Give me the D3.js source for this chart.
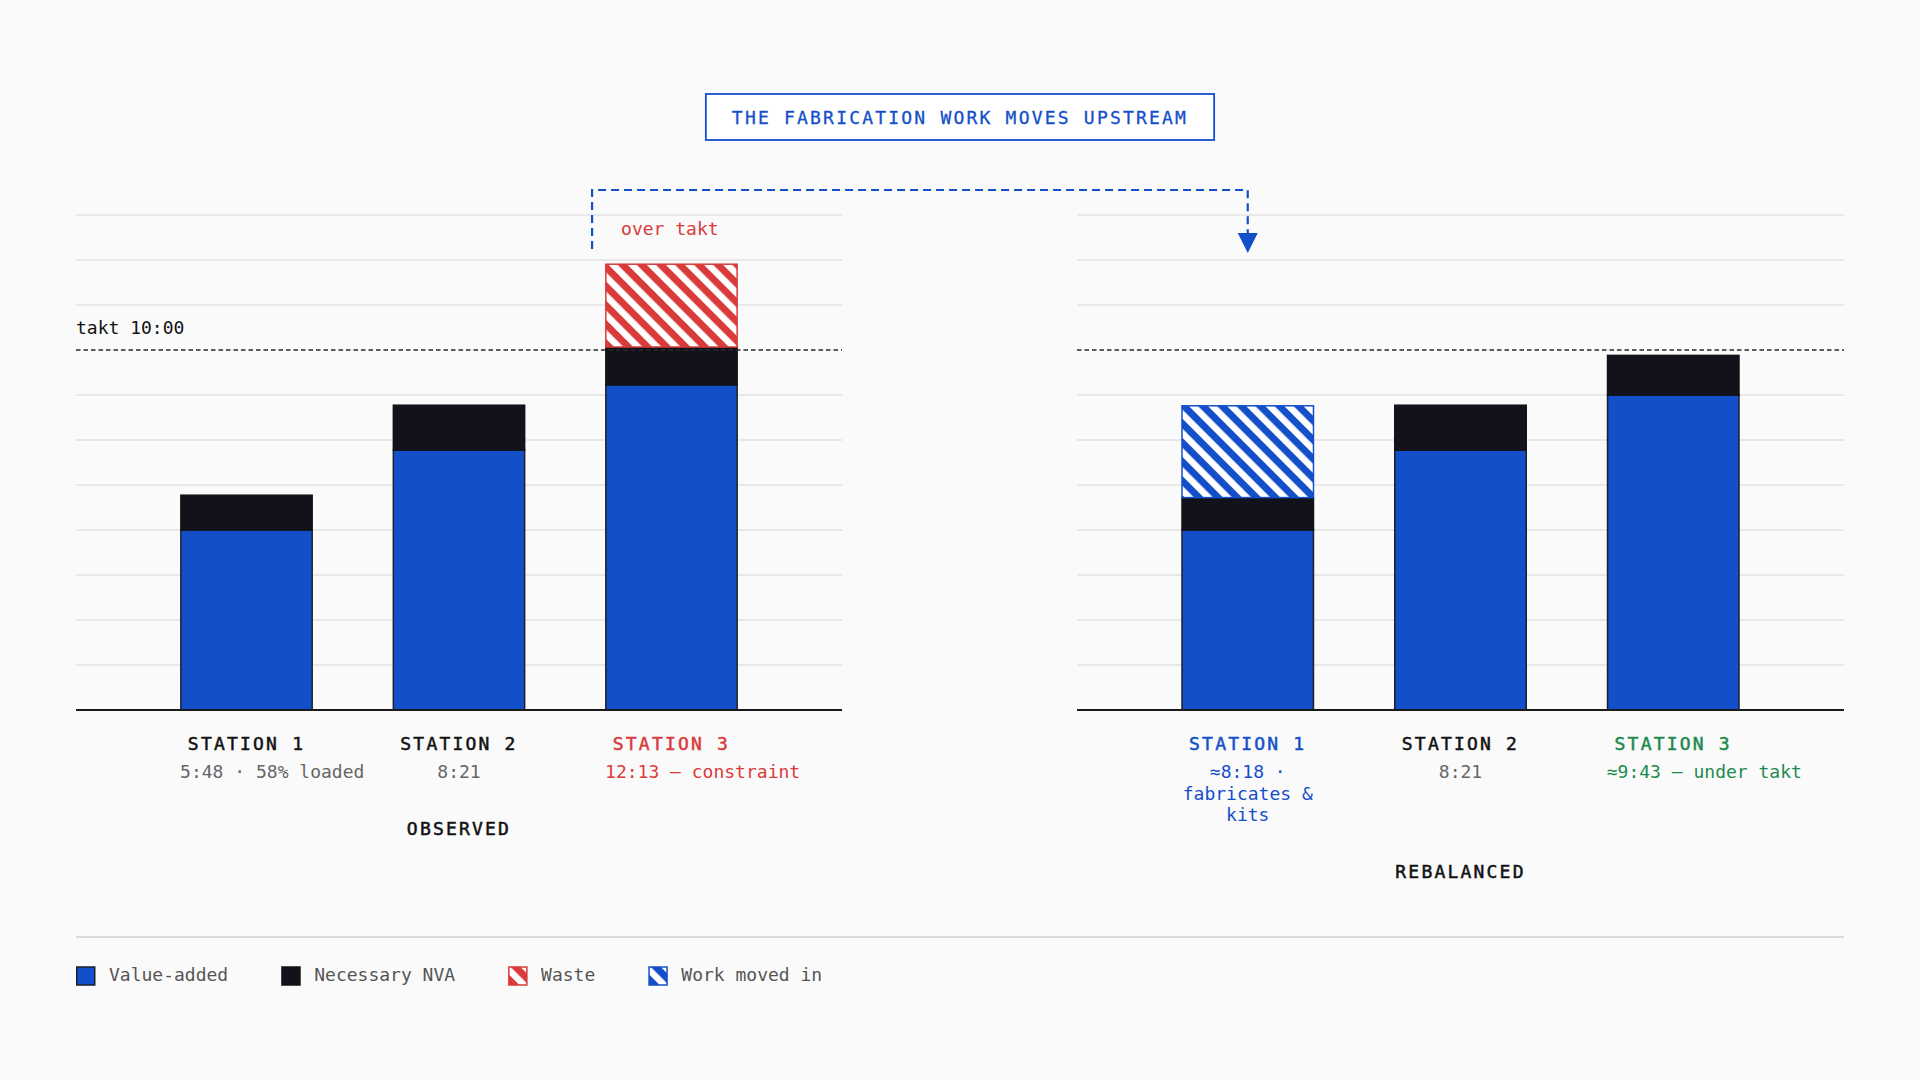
<!DOCTYPE html>
<html>
<head>
<meta charset="utf-8">
<script src="https://cdn.jsdelivr.net/npm/d3@7"></script>
<style>
  html, body { margin: 0; padding: 0; background: #fafafa; }
  svg { display: block; }
  text { font-family: "DejaVu Sans Mono", "Liberation Mono", monospace; }
</style>
</head>
<body>
<svg id="chart" width="1920" height="1080"></svg>
<script>
// values in seconds
var stations = ["STATION 1", "STATION 2", "STATION 3"];
var observedValueAdded = [300, 433, 542];
var observedNVA = [58, 75, 63];
var observedWaste = [0, 0, 138];
var observedMoved = [0, 0, 0];
var rebalancedValueAdded = [300, 433, 525];
var rebalancedNVA = [54, 75, 66];
var rebalancedWaste = [0, 0, 0];
var rebalancedMoved = [153, 0, 0];

var observedNotes = [["5:48 · 58% loaded"], ["8:21"], ["12:13 — constraint"]];
var rebalancedNotes = [["≈8:18 ·", "fabricates &", "kits"], ["8:21"], ["≈9:43 — under takt"]];

var gridTicks = [75, 150, 225, 300, 375, 450, 525, 600, 675, 750, 825];
var takt = 600;
var taktLabel = "takt 10:00";
var yMax = 825;

var legendLabels = ["Value-added", "Necessary NVA", "Waste", "Work moved in"];
var titleText = "THE FABRICATION WORK MOVES UPSTREAM";

const colors = {
  va: "#144fca",
  nva: "#12121a",
  red: "#d93b3b",
  green: "#1e8a4e",
  ink: "#111111",
  grey: "#666666",
  grid: "#e2e2e2",
  bg: "#fafafa"
};

var keys = ["va", "nva", "waste", "moved"];
var svg = d3.select("#chart");

// patterns
var defs = svg.append("defs");
function hatch(id, color) {
  var p = defs.append("pattern")
    .attr("id", id)
    .attr("patternUnits", "userSpaceOnUse")
    .attr("width", 13.5).attr("height", 13.5)
    .attr("patternTransform", "rotate(-45)");
  p.append("rect").attr("width", 13.5).attr("height", 13.5).attr("fill", color);
  p.append("rect").attr("x", 0).attr("width", 6.5).attr("height", 13.5).attr("fill", "#ffffff");
}
hatch("hatch-red", colors.red);
hatch("hatch-blue", colors.va);

var fills = { va: colors.va, nva: colors.nva, waste: "url(#hatch-red)", moved: "url(#hatch-blue)" };
var strokes = { va: "#1c1f2b", nva: colors.nva, waste: colors.red, moved: colors.va };

var y = d3.scaleLinear().domain([0, yMax]).range([710, 215]);

function rows(va, nva, waste, moved) {
  return stations.map((s, i) => ({ station: s, va: va[i], nva: nva[i], waste: waste[i], moved: moved[i] }));
}

// semi-bold look for caps labels
function heavy(sel, color) {
  return sel.attr("fill", color).attr("stroke", color).attr("stroke-width", 0.5);
}

var panels = [
  { x0: 76, x1: 842, label: "OBSERVED", data: rows(observedValueAdded, observedNVA, observedWaste, observedMoved),
    notes: observedNotes, labelColors: [colors.ink, colors.ink, colors.red], noteColors: [colors.grey, colors.grey, colors.red], taktText: true },
  { x0: 1077, x1: 1844, label: "REBALANCED", data: rows(rebalancedValueAdded, rebalancedNVA, rebalancedWaste, rebalancedMoved),
    notes: rebalancedNotes, labelColors: [colors.va, colors.ink, colors.green], noteColors: [colors.va, colors.grey, colors.green], taktText: false }
];

panels.forEach(function(p) {
  p.x = d3.scaleBand().domain(stations).range([p.x0, p.x1]).paddingInner(0.375).paddingOuter(0.49);
  var g = svg.append("g").attr("class", "panel");

  // grid
  g.selectAll(".grid")
    .data(gridTicks.filter(t => t !== takt))
    .enter().append("line")
    .attr("x1", p.x0).attr("x2", p.x1)
    .attr("y1", d => y(d)).attr("y2", d => y(d))
    .attr("stroke", colors.grid).attr("stroke-width", 1.6);

  // stacked bars
  var stacked = d3.stack().keys(keys)(p.data);
  g.selectAll(".layer")
    .data(stacked)
    .enter().append("g")
    .attr("fill", d => fills[d.key])
    .attr("stroke", d => strokes[d.key])
    .selectAll("rect")
    .data(d => d.filter(s => s[1] - s[0] > 0))
    .enter().append("rect")
    .attr("x", d => p.x(d.data.station) + 0.75)
    .attr("width", p.x.bandwidth() - 1.5)
    .attr("y", d => y(d[1]))
    .attr("height", d => y(d[0]) - y(d[1]))
    .attr("stroke-width", 1.5);

  // takt line
  g.append("line")
    .attr("x1", p.x0).attr("x2", p.x1)
    .attr("y1", y(takt)).attr("y2", y(takt))
    .attr("stroke", "#2a2a2a").attr("stroke-width", 1.5)
    .attr("stroke-dasharray", "4.5,3");
  if (p.taktText) {
    g.append("text").attr("x", p.x0).attr("y", y(takt) - 16)
      .attr("font-size", 18).attr("fill", colors.ink).text(taktLabel);
  }

  // baseline
  g.append("line")
    .attr("x1", p.x0).attr("x2", p.x1)
    .attr("y1", y(0)).attr("y2", y(0))
    .attr("stroke", "#1a1a1a").attr("stroke-width", 1.8);

  // station labels
  g.selectAll(".st")
    .data(stations)
    .enter().append("text")
    .attr("x", d => p.x(d) + p.x.bandwidth() / 2)
    .attr("y", 750)
    .attr("text-anchor", "middle")
    .attr("font-size", 18)
    .attr("letter-spacing", "2.2px")
    .each(function(d, i) { heavy(d3.select(this), p.labelColors[i]); })
    .text(d => d);

  // notes under each station
  var maxLines = 1;
  p.notes.forEach(function(lines, i) {
    maxLines = Math.max(maxLines, lines.length);
    var left = p.x(stations[i]);
    var bw = p.x.bandwidth();
    lines.forEach(function(line, j) {
      var t = g.append("text")
        .attr("y", 778 + j * 21.5)
        .attr("font-size", 18)
        .attr("fill", p.noteColors[i])
        .text(line);
      var w = t.node().getComputedTextLength();
      if (w > bw) t.attr("x", left).attr("text-anchor", "start");
      else t.attr("x", left + bw / 2).attr("text-anchor", "middle");
    });
  });

  // panel label
  heavy(g.append("text")
    .attr("x", (p.x0 + p.x1) / 2)
    .attr("y", 778 + (maxLines - 1) * 21.5 + 56.5)
    .attr("text-anchor", "middle")
    .attr("font-size", 18)
    .attr("letter-spacing", "2.2px"), colors.ink)
    .text(p.label);
});

// over takt note
var obs = panels[0], reb = panels[1];
svg.append("text")
  .attr("x", obs.x("STATION 3") + 16).attr("y", 235)
  .attr("font-size", 18).attr("fill", colors.red)
  .text("over takt");

// dashed arrow: constraint work moving upstream
var ax0 = obs.x("STATION 3") - 13;
var ax1 = reb.x("STATION 1") + reb.x.bandwidth() / 2;
var ay = 190;
svg.append("path")
  .attr("d", "M" + ax0 + "," + 249 + "V" + ay + "H" + ax1 + "V" + 234)
  .attr("fill", "none").attr("stroke", colors.va).attr("stroke-width", 2.2)
  .attr("stroke-dasharray", "8,5");
svg.append("path")
  .attr("d", "M" + (ax1 - 10) + ",233L" + (ax1 + 10) + ",233L" + ax1 + ",253Z")
  .attr("fill", colors.va);

// title box
var titleBox = svg.append("rect");
var title = svg.append("text")
  .attr("x", 960).attr("y", 124)
  .attr("text-anchor", "middle")
  .attr("font-size", 18)
  .attr("letter-spacing", "2.2px")
  .attr("fill", colors.va).attr("stroke", colors.va).attr("stroke-width", 0.3)
  .text(titleText);
var tw = title.node().getComputedTextLength();
titleBox
  .attr("x", 960 - tw / 2 - 26).attr("y", 94)
  .attr("width", tw + 52).attr("height", 46)
  .attr("fill", "#ffffff").attr("stroke", colors.va).attr("stroke-width", 1.8);

// separator
svg.append("line")
  .attr("x1", 76).attr("x2", 1844).attr("y1", 937).attr("y2", 937)
  .attr("stroke", "#cfcfcf").attr("stroke-width", 1.5);

// legend
var legendFills = [colors.va, colors.nva, "url(#hatch-red)", "url(#hatch-blue)"];
var legendStrokes = ["#1c1f2b", colors.nva, colors.red, colors.va];
var lx = 76;
legendLabels.forEach(function(lab, i) {
  var lg = svg.append("g").attr("transform", "translate(" + lx + ",0)");
  lg.append("rect").attr("x", 0.75).attr("y", 967).attr("width", 18).attr("height", 18)
    .attr("fill", legendFills[i]).attr("stroke", legendStrokes[i]).attr("stroke-width", 1.5);
  var t = lg.append("text").attr("x", 33).attr("y", 981)
    .attr("font-size", 18).attr("fill", "#555555").text(lab);
  lx += 33 + t.node().getComputedTextLength() + 53;
});
</script>
</body>
</html>
